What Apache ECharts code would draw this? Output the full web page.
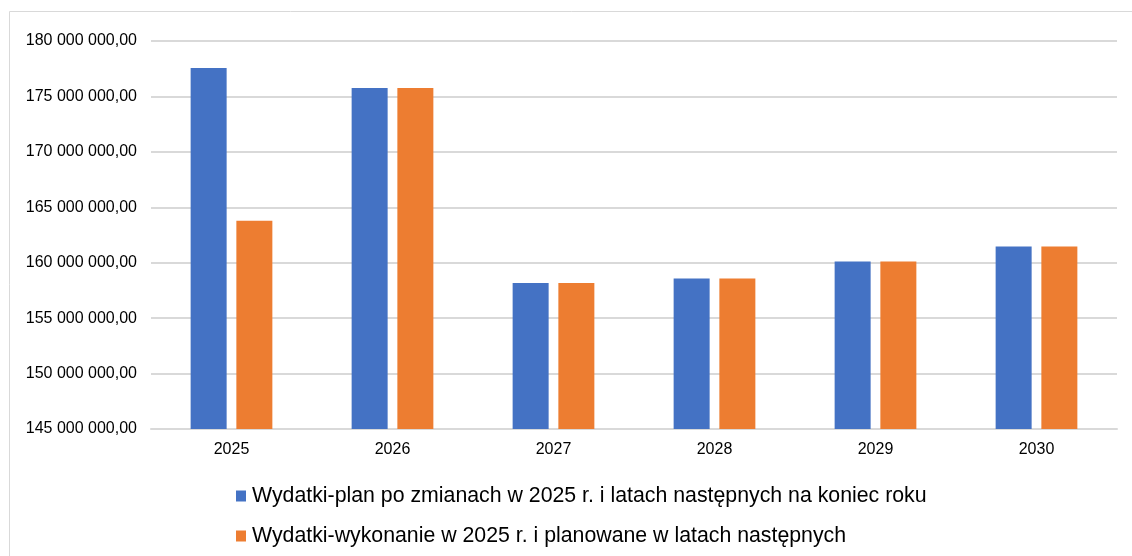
<!DOCTYPE html>
<html>
<head>
<meta charset="utf-8">
<script src="https://cdn.jsdelivr.net/npm/echarts@6/dist/echarts.min.js"></script>
<style>
  html, body { margin: 0; padding: 0; background: #fff; }
  #chart { width: 1132px; height: 556px; }
</style>
</head>
<body>
<div id="chart"></div>
<script>
const years = ['2025', '2026', '2027', '2028', '2029', '2030'];
const planValues = [177560000, 175760000, 158160000, 158580000, 160120000, 161470000];
const execValues = [163780000, 175760000, 158160000, 158580000, 160120000, 161470000];
const seriesNames = [
  'Wydatki-plan po zmianach w 2025 r. i latach następnych na koniec roku',
  'Wydatki-wykonanie w 2025 r. i planowane w latach następnych'
];

const formatPl = (v) => {
  const parts = Math.round(v).toString().replace(/\B(?=(\d{3})+(?!\d))/g, ' ');
  return parts + ',00';
};

var myChart = echarts.init(document.getElementById('chart'));
var option = {
  animation: false,
  textStyle: { fontFamily: 'Liberation Sans, Arial, sans-serif' },
  graphic: [
    {
      type: 'rect',
      shape: { x: 9.5, y: 11.5, width: 1140, height: 560 },
      style: { fill: 'none', stroke: '#d9d9d9', lineWidth: 1 }
    }
  ],
  grid: { left: 151, right: 15, top: 41, bottom: 127 },
  legend: {
    orient: 'vertical',
    left: 236,
    top: 484,
    padding: 0,
    itemWidth: 10,
    itemHeight: 11,
    itemGap: 16,
    icon: 'rect',
    textStyle: { fontSize: 21.3, color: '#000', lineHeight: 24, padding: [0, 0, 0, 1] },
    data: seriesNames
  },
  xAxis: {
    type: 'category',
    data: years,
    axisTick: { show: false },
    axisLine: { lineStyle: { color: '#d9d9d9', width: 2 } },
    axisLabel: { color: '#000', fontSize: 16, margin: 13 }
  },
  yAxis: {
    type: 'value',
    min: 145000000,
    max: 180000000,
    interval: 5000000,
    axisLabel: { color: '#000', fontSize: 16, margin: 14, formatter: formatPl },
    splitLine: { lineStyle: { color: '#d9d9d9', width: 2 } }
  },
  series: [
    {
      name: seriesNames[0],
      type: 'bar',
      data: planValues,
      barWidth: 36,
      barGap: '27%',
      itemStyle: { color: '#4472c4' }
    },
    {
      name: seriesNames[1],
      type: 'bar',
      data: execValues,
      barWidth: 36,
      itemStyle: { color: '#ed7d31' }
    }
  ]
};
option && myChart.setOption(option);
</script>
</body>
</html>
